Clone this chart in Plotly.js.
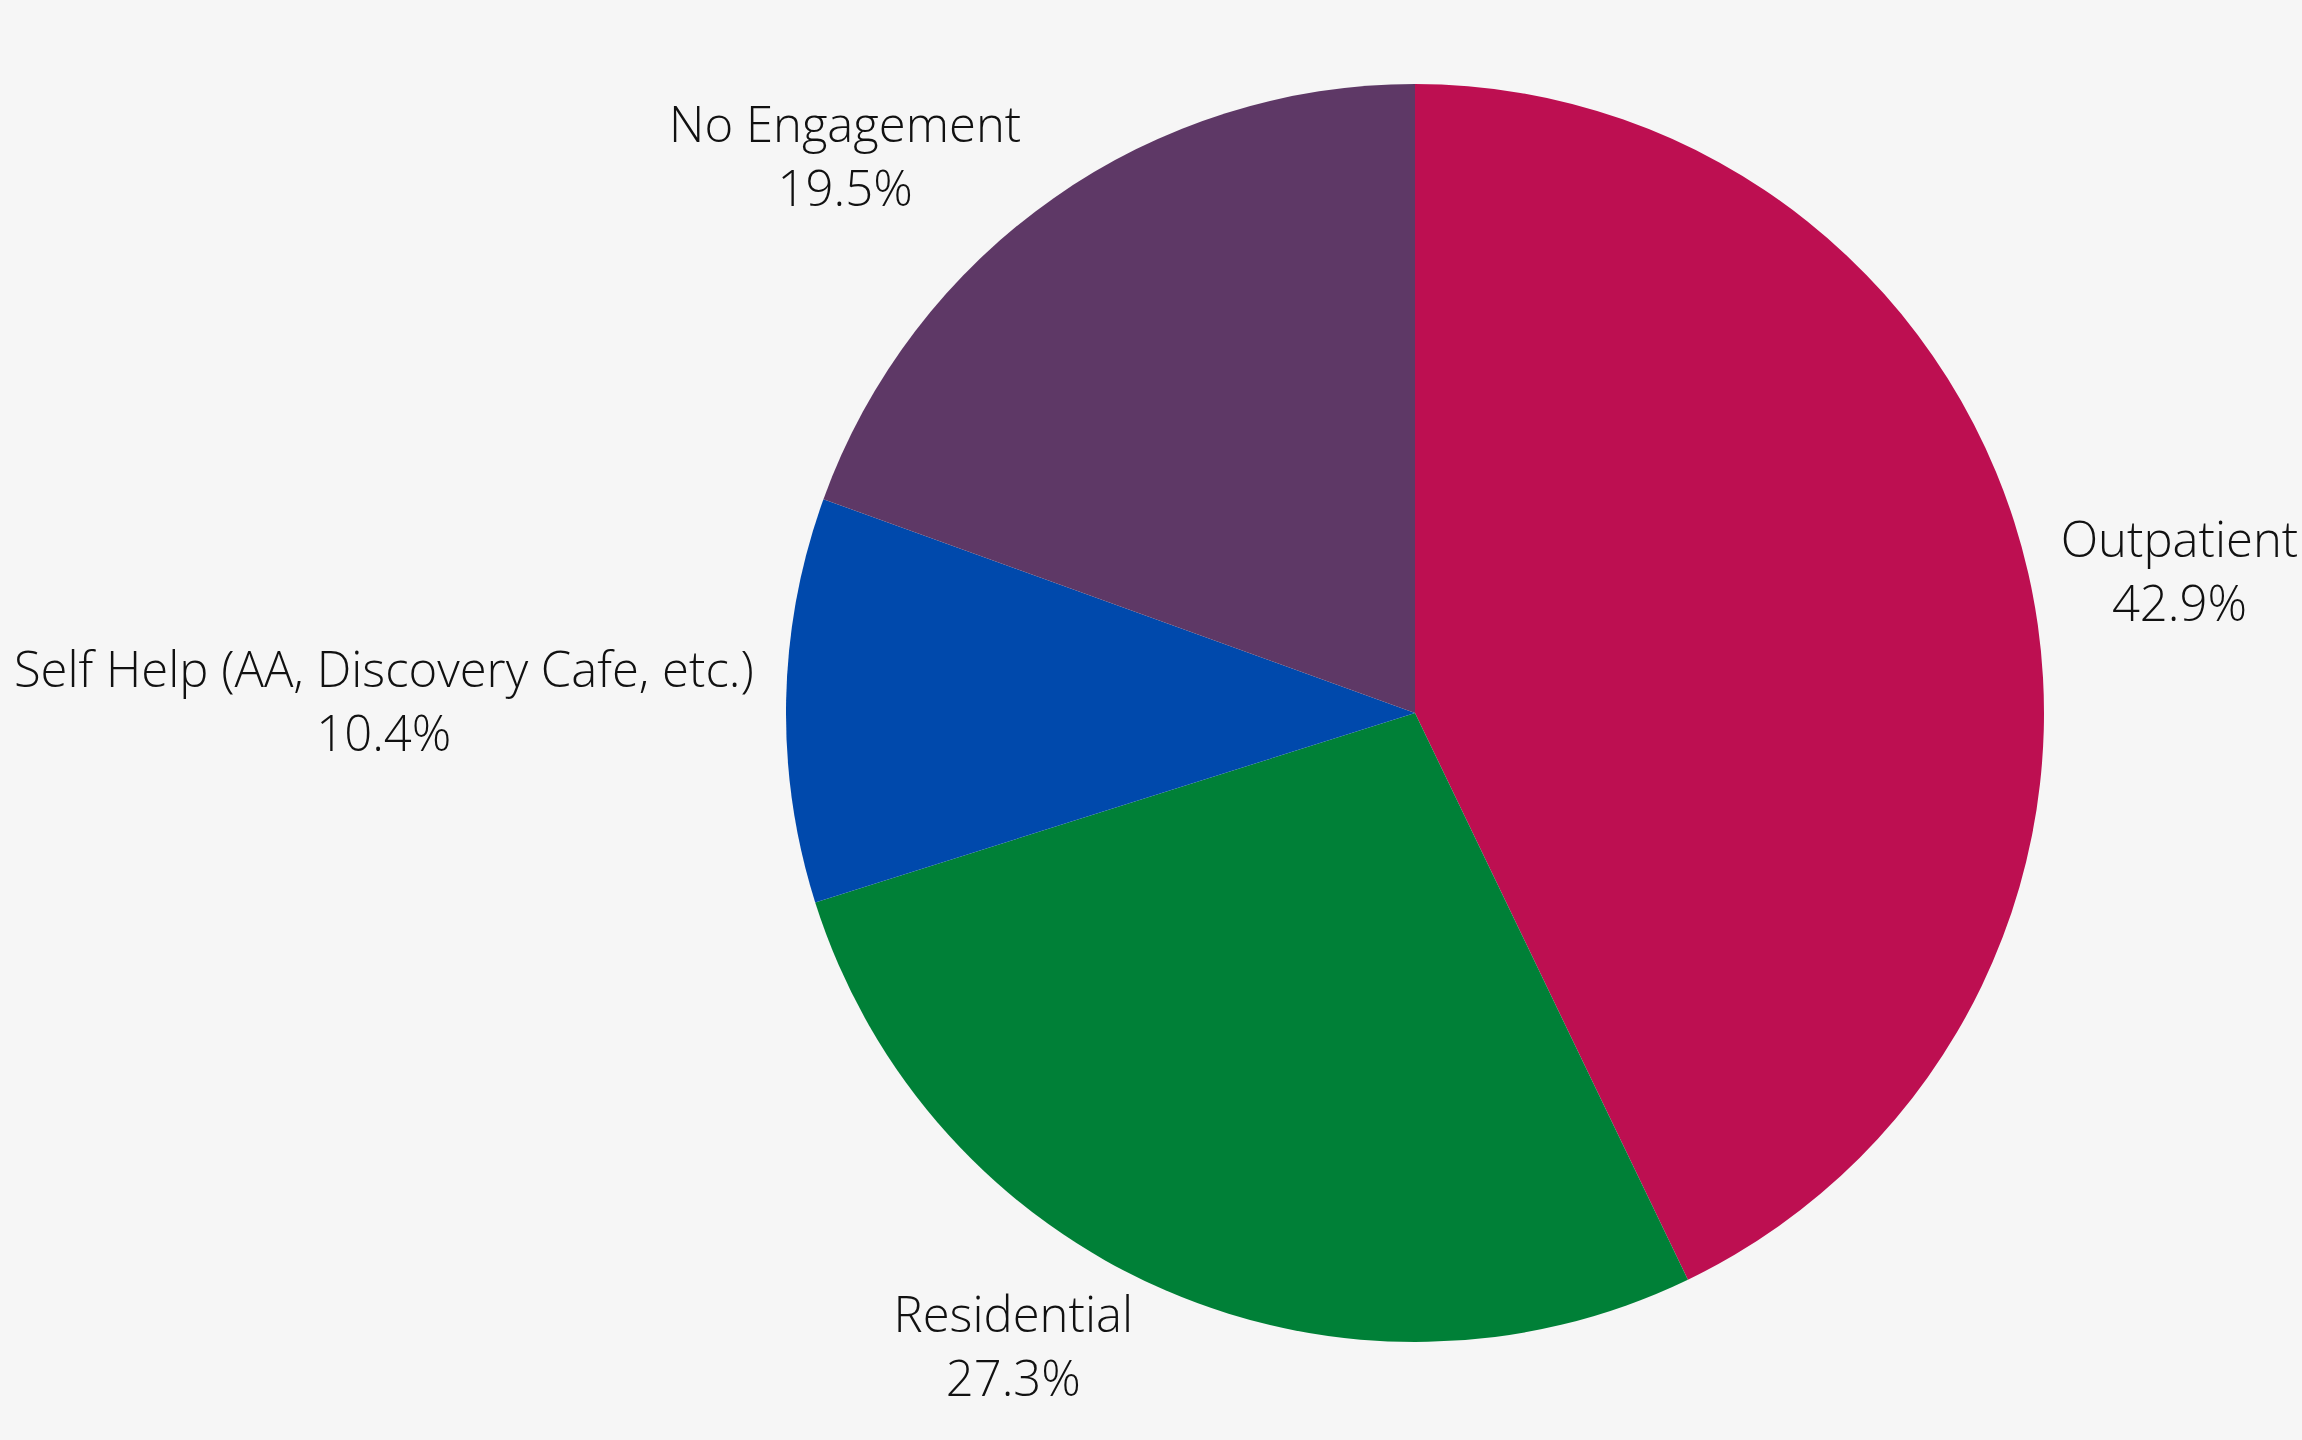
<!DOCTYPE html>
<html>
<head>
<meta charset="utf-8">
<script src="https://cdn.plot.ly/plotly-3.0.1.min.js"></script>
<style>html,body{margin:0;padding:0;background:#f6f6f6;}#chart{width:2302px;height:1440px;}</style>
</head>
<body>
<div id="chart"></div>
<script>
const categories = ["Outpatient", "Residential", "Self Help (AA, Discovery Cafe, etc.)", "No Engagement"];
const values = [42.9, 27.3, 10.4, 19.5];
const colors = ["#bd0f51", "#008037", "#0049ac", "#5e3866"];

Plotly.newPlot("chart", [{
  type: "pie",
  labels: categories,
  values: values,
  sort: false,
  direction: "clockwise",
  rotation: 0,
  marker: {colors: colors, line: {width: 0}},
  textinfo: "label+percent",
  textposition: "outside",
  outsidetextfont: {family: "Open Sans", size: 49, color: "#111", weight: 300},
  hoverinfo: "label+percent",
  showlegend: false
}], {
  width: 2302,
  height: 1440,
  paper_bgcolor: "#f6f6f6",
  plot_bgcolor: "#f6f6f6",
  margin: {l: 528, r: 0, t: 84, b: 98},
  font: {family: "Open Sans", weight: 300}
}, {displayModeBar: false});
</script>
</body>
</html>
